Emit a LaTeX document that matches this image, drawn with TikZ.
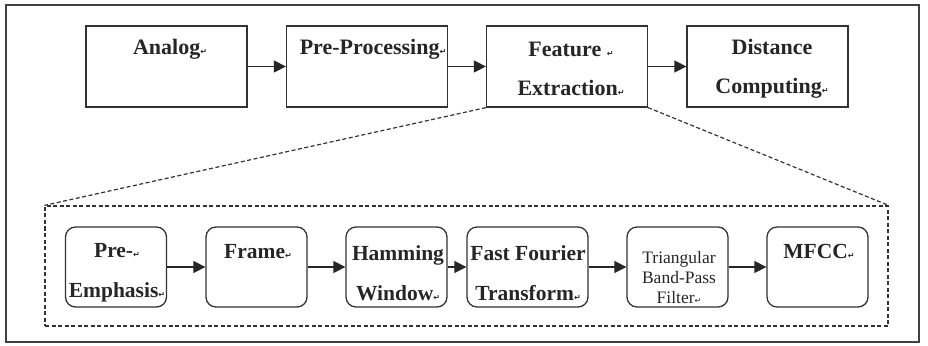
\documentclass[tikz,border=0pt]{standalone}
\usepackage{fontspec}
\setmainfont{Liberation Serif}
\newfontfamily\dvfont{DejaVu Sans}
\usetikzlibrary{arrows.meta}
\newcommand{\retmark}{{\dvfont\fontsize{8}{8}\selectfont ↵}}
\begin{document}
\begin{tikzpicture}[x=1pt,y=-1pt,
  topbox/.style={draw=black!80, line width=1.3pt, minimum width=161pt, minimum height=81pt, inner sep=0pt},
  botbox/.style={draw=black!80, line width=1.3pt, rounded corners=10pt, minimum width=101pt, minimum height=80pt, inner sep=0pt},
  txt/.style={font=\rmfamily\bfseries\fontsize{22}{39}\selectfont, align=center, text=black!85, inner sep=0pt},
  smalltxt/.style={font=\rmfamily\fontsize{17.5}{20}\selectfont, align=center, text=black!85, inner sep=0pt},
  arr/.style={draw=black!85, line width=1.4pt, -{Triangle[length=12pt,width=12pt]}},
  dashline/.style={draw=black!80, line width=1.2pt, dash pattern=on 4pt off 2.5pt}
]
\useasboundingbox (0,0) rectangle (928,345);
\fill[white] (0,0) rectangle (928,345);
\draw[black!75, line width=1.3pt] (6,5) rectangle (919,342);

% top row
\node[topbox] (an) at (166.5,66.5) {};
\node[topbox] (pp) at (367,66.5) {};
\node[topbox] (fe) at (567,66.5) {};
\node[topbox] (dc) at (767.5,66.5) {};

\node[txt] (tan) at (170,49) {Analog\retmark};
\node[txt] (tpp) at (373,49) {Pre-Processing\retmark};
\node[txt] (tfe) at (571,69) {Feature \retmark\\Extraction\retmark};
\node[txt] (tdc) at (772,69) {Distance\\Computing\retmark};

\draw[arr] (an) -- (pp);
\draw[arr] (pp) -- (fe);
\draw[arr] (fe) -- (dc);

% dashed detail box
\node[dashline, minimum width=843pt, minimum height=120pt, inner sep=0pt] (db) at (466.5,266) {};
\draw[dashline] (fe.south west) -- (db.north west);
\draw[dashline] (fe.south east) -- (db.north east);

% bottom row
\node[botbox] (pe) at (116,267) {};
\node[botbox] (fr) at (256.5,267) {};
\node[botbox] (hw) at (396.5,267) {};
\node[botbox, minimum width=121pt] (ff) at (527.5,267) {};
\node[botbox] (tb) at (677.5,267) {};
\node[botbox] (mf) at (817.5,267) {};

\node[txt, font=\rmfamily\bfseries\fontsize{21.5}{40}\selectfont] (tpe) at (117,273) {Pre-\retmark\\Emphasis\retmark};
\node[txt, font=\rmfamily\bfseries\fontsize{21.5}{40}\selectfont] (tfr) at (258,252) {Frame\retmark};
\node[txt, font=\rmfamily\bfseries\fontsize{21.5}{40}\selectfont] (thw) at (398,273) {Hamming\\Window\retmark};
\node[txt, font=\rmfamily\bfseries\fontsize{21.5}{40}\selectfont] (tff) at (528,273) {Fast Fourier\\Transform\retmark};
\node[smalltxt] (ttb) at (679,278) {Triangular\\Band-Pass\\Filter\retmark};
\node[txt, font=\rmfamily\bfseries\fontsize{21.5}{40}\selectfont] (tmf) at (819,251) {MFCC\retmark};

\draw[arr] (pe) -- (fr);
\draw[arr] (fr) -- (hw);
\draw[arr] (hw) -- (ff);
\draw[arr] (ff) -- (tb);
\draw[arr] (tb) -- (mf);
\end{tikzpicture}
\end{document}
